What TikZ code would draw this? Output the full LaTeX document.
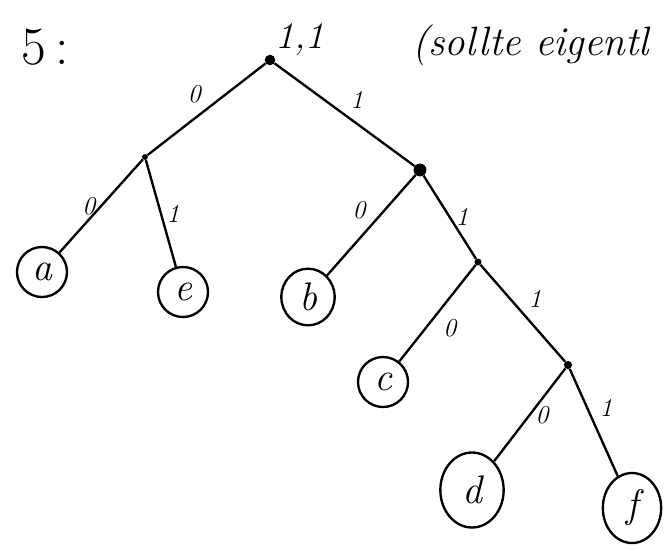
\documentclass[tikz,border=0pt]{standalone}
\usepackage{tikz}
\usetikzlibrary{positioning,shapes.geometric}

\begin{document}
\begin{tikzpicture}[
  x=0.03cm, y=-0.03cm,
  knot/.style={circle, fill, inner sep=0pt, minimum size=7pt},
  leaf/.style={draw, ellipse, line width=2pt, inner sep=0pt, minimum width=1.5cm, minimum height=1.5cm, font=\fontsize{34}{38}\selectfont\itshape},
  edge/.style={line width=2pt},
  bit/.style={font=\fontsize{22}{24}\selectfont\itshape, inner sep=4pt}
]
\useasboundingbox (0,0) rectangle (672,550);
% headline
\node[font=\fontsize{46}{50}\selectfont] (nr) at (45,47) {5\,:};
\node[font=\fontsize{32}{36}\selectfont\itshape] (code) at (300,40) {1,1};
\node[anchor=west, font=\fontsize{35}{40}\selectfont\itshape] (note) at (408,45) {(sollte eigentl};
% inner nodes
\node[knot, minimum size=9pt] (r) at (270,60) {};
\node[knot, minimum size=5pt] (n0) at (145,157) {};
\node[knot, minimum size=11pt] (n1) at (420,170) {};
\node[knot, minimum size=6pt] (n11) at (478,262) {};
\node[knot, minimum size=7pt] (n111) at (568,365) {};
% leaves
\node[leaf] (a) at (42,272) {a};
\node[leaf] (e) at (183,292) {e};
\node[leaf, minimum width=1.6cm, minimum height=1.7cm] (b) at (308,297) {b};
\node[leaf] (c) at (383,382) {c};
\node[leaf, minimum width=1.9cm, minimum height=2.25cm] (d) at (472,490) {d};
\node[leaf, minimum width=1.75cm, minimum height=2.1cm] (f) at (632,508) {f};
% edges
\draw[edge] (r) -- node[bit, above left] {0} (n0);
\draw[edge] (r) -- node[bit, above right] {1} (n1);
\draw[edge] (n0) -- node[bit, left] {0} (a);
\draw[edge] (n0) -- node[bit, right] {1} (e);
\draw[edge] (n1) -- node[bit, above left] {0} (b);
\draw[edge] (n1) -- node[bit, right] {1} (n11);
\draw[edge] (n11) -- node[bit, below right] {0} (c);
\draw[edge] (n11) -- node[bit, above right] {1} (n111);
\draw[edge] (n111) -- node[bit, right] {0} (d);
\draw[edge] (n111) -- node[bit, above right] {1} (f);
\end{tikzpicture}
\end{document}
